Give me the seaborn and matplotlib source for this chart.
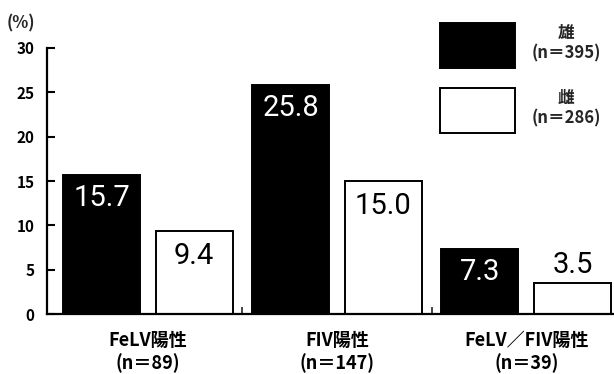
import matplotlib
matplotlib.use("Agg")
import matplotlib.pyplot as plt
import seaborn as sns
import pandas as pd

# Positive rates (%) by infection group and sex
categories = ["FeLV陽性\n(n＝89)", "FIV陽性\n(n＝147)", "FeLV／FIV陽性\n(n＝39)"]
sexes = ["雄\n(n＝395)", "雌\n(n＝286)"]
male = [15.7, 25.8, 7.3]
female = [9.4, 15.0, 3.5]
yticks = [0, 5, 10, 15, 20, 25, 30]

df = pd.DataFrame({
    "group": categories * 2,
    "sex": [sexes[0]] * len(male) + [sexes[1]] * len(female),
    "rate": male + female,
})

sns.set_theme(style="ticks")
plt.rcParams["font.family"] = ["Noto Sans CJK JP", "DejaVu Sans"]
value_font = ["Roboto", "DejaVu Sans"]

fig = plt.figure(figsize=(6.14, 3.74), dpi=100)
ax = fig.add_axes([0.0765, 0.160, 0.9235, 0.712])

sns.barplot(
    data=df, x="group", y="rate", hue="sex",
    order=categories, hue_order=sexes,
    palette=["#000000", "#ffffff"], saturation=1,
    edgecolor="#000000", linewidth=1.4,
    width=0.98, gap=0.17, errorbar=None, ax=ax,
)

# value labels: inside the top of each bar, above it when the bar is short
male_txt = ax.bar_label(ax.containers[0], labels=[f"{v:.1f}" for v in male],
                        padding=-6.5, color="white", fontsize=21, fontfamily=value_font)
inside = [f"{v:.1f}" if v >= 5 else "" for v in female]
above = [f"{v:.1f}" if v < 5 else "" for v in female]
fem_txt = ax.bar_label(ax.containers[1], labels=inside,
                       padding=-8, color="black", fontsize=21, fontfamily=value_font)
ax.bar_label(ax.containers[1], labels=above,
             padding=3, color="black", fontsize=21, fontfamily=value_font)
for t in list(male_txt) + list(fem_txt):
    t.set_va("top")

# legend with large swatches and centred two-line labels
handles, labels = ax.get_legend_handles_labels()
ax.get_legend().remove()
leg = fig.legend(handles, labels, loc="upper left",
                 bbox_to_anchor=(440 / 614, 1 - 23 / 374), bbox_transform=fig.transFigure,
                 frameon=False, handlelength=4.5, handleheight=3.77,
                 handletextpad=1.0, labelspacing=1.2, borderpad=0, borderaxespad=0,
                 prop={"weight": "bold", "size": 12})
for t in leg.get_texts():
    t.set_multialignment("center")

ax.set_xlim(-0.533, 2.464)
ax.set_ylim(0, 30)
ax.set_yticks(yticks, labels=[str(v) for v in yticks], fontweight="bold")
ax.set_xlabel("")
ax.set_ylabel("")
ax.tick_params(axis="y", direction="in", length=6, width=1.5, labelsize=11, pad=9, colors="black")
ax.tick_params(axis="x", length=0, pad=12, labelsize=13, colors="black")
for lbl in ax.get_xticklabels():
    lbl.set_fontweight("bold")
ax.set_xticks([0.5, 1.5], minor=True)
ax.tick_params(axis="x", which="minor", direction="in", length=5, width=1.2)

sns.despine(ax=ax)
for side in ("left", "bottom"):
    ax.spines[side].set_linewidth(1.6)
    ax.spines[side].set_color("black")

fig.text(21 / 614, 1 - 23 / 374, "(%)", ha="center", va="center",
         fontsize=12, fontweight="bold")

fig.savefig("out.png", dpi=100)
